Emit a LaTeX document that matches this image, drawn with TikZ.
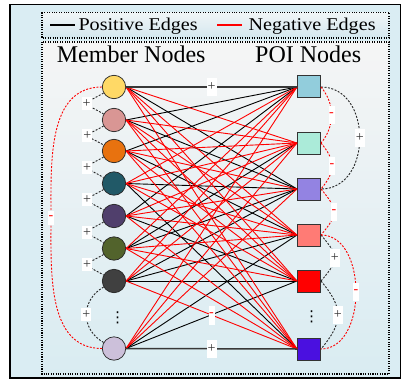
\documentclass[tikz,border=0pt]{standalone}
\usepackage{fontspec}
\setmainfont{Liberation Serif}
\newfontfamily\dejavu{DejaVu Sans}
\usetikzlibrary{calc}
\definecolor{bgblue}{HTML}{DAEDF3}
\definecolor{legtop}{HTML}{F0F5F7}
\definecolor{legbot}{HTML}{D3E7EE}
\definecolor{maintop}{HTML}{F5F5F5}
\definecolor{mainbot}{HTML}{D9ECF2}
\definecolor{cA}{HTML}{FFD966}
\definecolor{cB}{HTML}{D99694}
\definecolor{cC}{HTML}{E8720F}
\definecolor{cD}{HTML}{215967}
\definecolor{cE}{HTML}{503F6C}
\definecolor{cF}{HTML}{52632C}
\definecolor{cG}{HTML}{404040}
\definecolor{cH}{HTML}{CCC0DA}
\definecolor{pA}{HTML}{92CDDC}
\definecolor{pB}{HTML}{ABEBD9}
\definecolor{pC}{HTML}{9383E2}
\definecolor{pD}{HTML}{FF7B75}
\definecolor{pE}{HTML}{FF0000}
\definecolor{pF}{HTML}{4A10E0}
\tikzset{
  mem/.style={circle, draw=black!85, line width=0.7pt, minimum size=23.4pt, inner sep=0pt},
  poi/.style={rectangle, draw=black!80, line width=1pt, minimum width=23pt, minimum height=22pt, inner sep=0pt},
  posedge/.style={black, line width=0.9pt},
  posthick/.style={black!78, line width=1.5pt},
  negedge/.style={red, line width=0.9pt},
  posarc/.style={black!85, line width=0.9pt, dash pattern=on 2pt off 1.5pt},
  negarc/.style={red, line width=0.9pt, dash pattern=on 2pt off 1.5pt},
  plab/.style={fill=white, inner sep=0pt, minimum width=10pt, minimum height=13pt, font=\fontsize{14}{14}\selectfont, text=black!80},
  plabtall/.style={plab, minimum height=18pt},
  mlab/.style={fill=white, inner sep=0pt, minimum width=6pt, minimum height=16pt, font=\fontsize{14}{14}\selectfont, text=red},
  dotbox/.style={line width=1.1pt, dash pattern=on 1.1pt off 1.3pt},
  hdr/.style={anchor=base west, inner sep=0pt, font=\fontsize{24}{24}\selectfont},
  leg/.style={anchor=base west, inner sep=0pt, font=\fontsize{18}{18}\selectfont},
  vdotsnode/.style={inner sep=0pt, font=\dejavu\fontsize{15}{15}\selectfont}
}
\begin{document}
\begin{tikzpicture}[x=1pt,y=1pt]
\useasboundingbox (0,0) rectangle (411,-382);
\fill[white] (0,0) rectangle (411,-382);
\draw[line width=1.3pt, fill=bgblue] (10,-4.5) rectangle (400.5,-378);
% legend box
\shade[top color=legtop, bottom color=legbot] (42,-12.5) rectangle (389,-38);
\draw[dotbox] (42,-12.5) rectangle (389,-38);
% main box
\shade[top color=maintop, bottom color=mainbot] (42,-42) rectangle (389,-374);
\draw[dotbox] (42,-42) rectangle (389,-374);
% legend
\coordinate (la) at (50,-25);
\coordinate (lb) at (75,-25);
\coordinate (lc) at (217,-25);
\coordinate (ld) at (242,-25);
\draw[black, line width=1.1pt] (la) -- (lb);
\draw[red, line width=1.1pt] (lc) -- (ld);
\node[leg] (lpos) at (78.3,-30.7) {\scalebox{1.12}[1]{Positive Edges}};
\node[leg] (lneg) at (248.3,-30.7) {\scalebox{1.12}[1]{Negative Edges}};
% headers
\node[hdr] (hm) at (56.7,-62.3) {Member Nodes};
\node[hdr] (hp) at (255,-62.3) {POI Nodes};
% member nodes
\node[mem, fill=cA] (m1) at (114,-87) {};
\node[mem, fill=cB] (m2) at (114,-120) {};
\node[mem, fill=cC] (m3) at (114,-151) {};
\node[mem, fill=cD] (m4) at (114,-183.5) {};
\node[mem, fill=cE] (m5) at (114,-216) {};
\node[mem, fill=cF] (m6) at (114,-248.5) {};
\node[mem, fill=cG] (m7) at (114,-281) {};
\node[mem, fill=cH] (m8) at (114,-348.5) {};
\node[vdotsnode] (md) at (117.7,-318) {⋮};
% POI nodes
\node[poi, fill=pA] (p1) at (309,-87) {};
\node[poi, fill=pB] (p2) at (309,-143) {};
\node[poi, fill=pC] (p3) at (309,-189) {};
\node[poi, fill=pD] (p4) at (309,-235) {};
\node[poi, fill=pE] (p5) at (309,-281) {};
\node[poi, fill=pF] (p6) at (309,-349) {};
\node[vdotsnode] (pd) at (311.7,-317) {⋮};
% positive edges
\foreach \a/\b in {m2/p1, m3/p1, m5/p1, m6/p2, m1/p3, m2/p3, m4/p3, m6/p3, m7/p3, m3/p4, m7/p4, m8/p4, m5/p5, m7/p5, m8/p5, m4/p6}
  \draw[posedge] (\a.east) -- (\b.west);
% negative edges
\foreach \a/\b in {m4/p1, m6/p1, m7/p1, m8/p1,
                   m1/p2, m2/p2, m3/p2, m4/p2, m5/p2, m7/p2, m8/p2,
                   m3/p3, m5/p3, m8/p3,
                   m1/p4, m2/p4, m4/p4, m5/p4, m6/p4,
                   m1/p5, m2/p5, m3/p5, m4/p5, m6/p5,
                   m1/p6, m2/p6, m3/p6, m5/p6, m6/p6, m7/p6}
  \draw[negedge] (\a.east) -- (\b.west);
\draw[posthick] (m1.east) -- (p1.west);
\draw[posthick] (m8.east) -- (p6.west);
% edge labels
\path (m1.east) -- node[plabtall] {+} (p1.west);
\path (m8.east) -- node[plabtall] {+} (p6.west);
\path (m7.east) -- node[mlab, minimum height=19pt] {-} (p6.west);
% member-member arcs
\draw[posarc] (m1) to[bend right=60, looseness=3.2] node[plab] {+} (m2);
\draw[posarc] (m2) to[bend right=60, looseness=3.4] node[plab] {+} (m3);
\draw[posarc] (m3) to[bend right=60, looseness=3.2] node[plab] {+} (m4);
\draw[posarc] (m4) to[bend right=60, looseness=3.2] node[plab] {+} (m5);
\draw[posarc] (m5) to[bend right=60, looseness=3.2] node[plab] {+} (m6);
\draw[posarc] (m6) to[bend right=60, looseness=3.2] node[plab] {+} (m7);
\draw[posarc] (m7) to[bend right=60, looseness=1.23] node[plab] {+} (m8);
\coordinate (lm) at (51,-217.5);
\draw[negarc] (m1.west) to[out=180,in=90] (lm) to[out=270,in=180] (m8.west);
\node[mlab, minimum height=14pt] (lml) at (lm) {-};
% POI-POI arcs
\draw[posarc] (p1.east) to[out=0,in=0,looseness=1.3] node[plabtall] {+} (p3.east);
\draw[negarc] (p1.east) to[bend left=40, looseness=1.0] node[mlab, minimum height=18pt] {-} (p2.east);
\draw[negarc] (p2.east) to[bend left=40, looseness=1.27] node[mlab, minimum height=18pt] {-} (p3.east);
\draw[negarc] (p3.east) to[bend left=40, looseness=1.5] node[mlab, minimum height=18pt] {-} (p4.east);
\draw[posarc] (p4.east) to[bend left=40, looseness=1.6] node[plabtall] {+} (p5.east);
\draw[posarc] (p5.east) to[bend left=40, looseness=1.32] node[plabtall] {+} (p6.east);
\draw[negarc] (p4.east) to[out=0,in=0,looseness=1.05] node[mlab, minimum height=18pt] {-} (p6.east);
\end{tikzpicture}
\end{document}
